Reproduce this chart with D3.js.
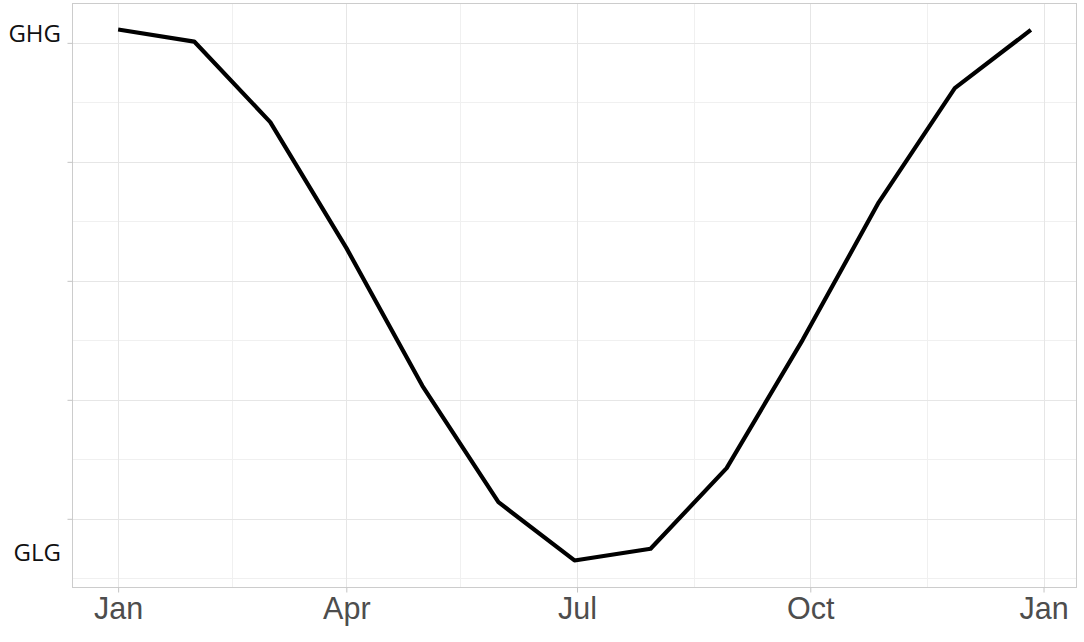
<!DOCTYPE html>
<html>
<head>
<meta charset="utf-8">
<script src="https://cdn.jsdelivr.net/npm/d3@7"></script>
<style>
  html, body { margin: 0; padding: 0; background: #ffffff; }
  svg { display: block; }
</style>
</head>
<body>
<svg id="chart" width="1084" height="642"></svg>
<script>
// ---- data ----
const dates = ["2001-01-01","2001-01-31","2001-03-02","2001-04-01","2001-05-01","2001-05-31",
               "2001-06-30","2001-07-30","2001-08-29","2001-09-28","2001-10-28","2001-11-27","2001-12-27"];
const levels = [4.112, 4.011, 3.334, 2.277, 1.118, 0.140, -0.350, -0.252, 0.426, 1.504, 2.660, 3.619, 4.109];
const xTickDates = ["2001-01-01","2001-04-01","2001-07-01","2001-10-01","2002-01-01"];
const xMinorDates = ["2001-02-15","2001-05-16","2001-08-16","2001-11-16"];
const yTicks = [0, 1, 2, 3, 4];
const yMinor = [-0.5, 0.5, 1.5, 2.5, 3.5];
const labelNames = ["GHG", "GLG"];
const labelValues = [4.08, -0.285];

// ---- layout ----
const svg = d3.select("#chart");
const panel = { left: 72.5, right: 1076.5, top: 3, bottom: 587 };

const parse = d3.utcParse("%Y-%m-%d");
const pts = dates.map((d, i) => ({ date: parse(d), v: levels[i] }));

const xExt = d3.extent(pts, d => d.date);
const xPad = (xExt[1] - xExt[0]) * 0.05;
const x = d3.scaleUtc()
  .domain([new Date(+xExt[0] - xPad), new Date(+xExt[1] + xPad)])
  .range([panel.left, panel.right]);

const yExt = d3.extent(levels);
const yPad = (yExt[1] - yExt[0]) * 0.05;
const y = d3.scaleLinear()
  .domain([yExt[0] - yPad, yExt[1] + yPad])
  .range([panel.bottom, panel.top]);

const g = svg.append("g");

// minor grid
g.selectAll("line.ymin").data(yMinor).join("line")
  .attr("x1", panel.left).attr("x2", panel.right)
  .attr("y1", d => Math.round(y(d)) + 0.5).attr("y2", d => Math.round(y(d)) + 0.5)
  .attr("stroke", "#f0f0f0").attr("stroke-width", 1);
g.selectAll("line.xmin").data(xMinorDates.map(parse)).join("line")
  .attr("y1", panel.top).attr("y2", panel.bottom)
  .attr("x1", d => Math.round(x(d)) + 0.5).attr("x2", d => Math.round(x(d)) + 0.5)
  .attr("stroke", "#f0f0f0").attr("stroke-width", 1);

// major grid
g.selectAll("line.ymaj").data(yTicks).join("line")
  .attr("x1", panel.left).attr("x2", panel.right)
  .attr("y1", d => Math.round(y(d)) + 0.5).attr("y2", d => Math.round(y(d)) + 0.5)
  .attr("stroke", "#e6e6e6").attr("stroke-width", 1);
g.selectAll("line.xmaj").data(xTickDates.map(parse)).join("line")
  .attr("y1", panel.top).attr("y2", panel.bottom)
  .attr("x1", d => Math.round(x(d)) + 0.5).attr("x2", d => Math.round(x(d)) + 0.5)
  .attr("stroke", "#e6e6e6").attr("stroke-width", 1);

// panel border
g.append("rect")
  .attr("x", panel.left).attr("y", panel.top + 0.5)
  .attr("width", panel.right - panel.left).attr("height", panel.bottom - panel.top)
  .attr("fill", "none").attr("stroke", "#cccccc").attr("stroke-width", 1);

// x axis
const xAxis = d3.axisBottom(x)
  .tickValues(xTickDates.map(parse))
  .tickFormat(d3.utcFormat("%b"))
  .tickSize(5).tickPadding(4);
const xg = svg.append("g").attr("transform", `translate(0,${panel.bottom + 0.5})`).call(xAxis);
xg.select(".domain").remove();
xg.selectAll(".tick line").attr("stroke", "#c4c4c4");
xg.selectAll(".tick text")
  .attr("fill", "#4d4d4d")
  .style("font-family", "'Liberation Sans', Arial, sans-serif")
  .style("font-size", "30.5px")
  .attr("dy", "0.74em");

// y axis (ticks only, no labels)
const yAxis = d3.axisLeft(y).tickValues(yTicks).tickFormat("").tickSize(5);
const yg = svg.append("g").attr("transform", `translate(${panel.left},0)`).call(yAxis);
yg.select(".domain").remove();
yg.selectAll(".tick line").attr("stroke", "#c4c4c4");

// GHG / GLG labels
svg.selectAll("text.lvl").data(labelNames).join("text")
  .attr("class", "lvl")
  .attr("x", 61)
  .attr("y", (d, i) => y(labelValues[i]))
  .attr("dy", "0.36em")
  .attr("text-anchor", "end")
  .attr("fill", "#111111")
  .style("font-family", "'Open Sans', 'Noto Sans', sans-serif")
  .style("font-size", "24px")
  .text(d => d);

// line
const line = d3.line().x(d => x(d.date)).y(d => y(d.v));
svg.append("path").datum(pts)
  .attr("d", line)
  .attr("fill", "none")
  .attr("stroke", "#000000")
  .attr("stroke-width", 4.2)
  .attr("stroke-linejoin", "round")
  .attr("stroke-linecap", "butt");
</script>
</body>
</html>
